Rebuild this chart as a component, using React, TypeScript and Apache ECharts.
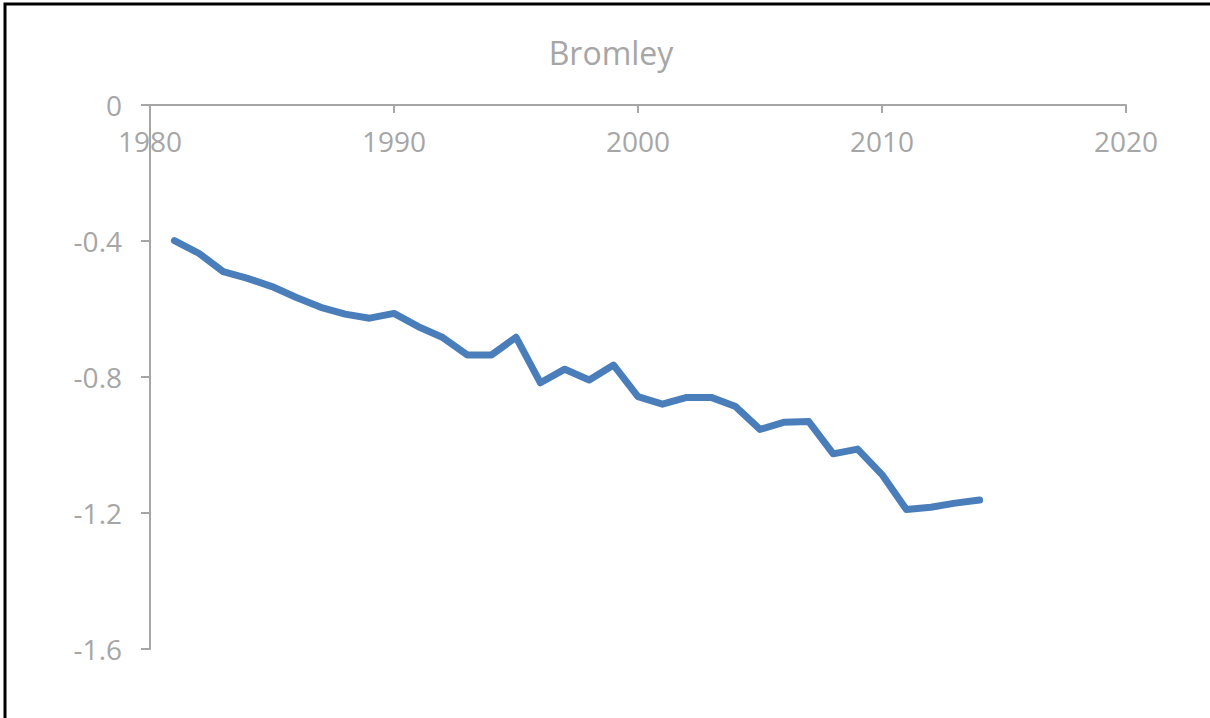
import React, { useEffect, useRef } from "react";
import * as echarts from "echarts";

const title = "Bromley";
const years = [1981,1982,1983,1984,1985,1986,1987,1988,1989,1990,1991,1992,1993,1994,1995,1996,1997,1998,1999,2000,2001,2002,2003,2004,2005,2006,2007,2008,2009,2010,2011,2012,2013,2014];
const values = [-0.399,-0.436,-0.490,-0.510,-0.534,-0.566,-0.595,-0.615,-0.627,-0.613,-0.652,-0.684,-0.735,-0.735,-0.683,-0.817,-0.777,-0.809,-0.765,-0.858,-0.880,-0.860,-0.860,-0.887,-0.954,-0.933,-0.931,-1.026,-1.012,-1.087,-1.190,-1.183,-1.171,-1.162];
const xTicks = [1980, 2020, 10];
const yTicks = [-1.6, 0, 0.4];

export default function App() {
  const ref = useRef<HTMLDivElement>(null);
  useEffect(() => {
    document.body.style.margin = "0";
    const chart = echarts.init(ref.current!, null, { renderer: "svg" });
    const gray = "#a6a6a6";
    const font = "'Open Sans', 'Noto Sans', sans-serif";
    chart.setOption({
      animation: false,
      backgroundColor: "#ffffff",
      title: {
        text: title,
        left: 606,
        textAlign: "center",
        top: 31,
        textStyle: { color: gray, fontSize: 32, fontWeight: "normal", fontFamily: font },
      },
      grid: { left: 150, right: 84, top: 105, bottom: 69, containLabel: false },
      xAxis: {
        type: "value",
        position: "top",
        min: xTicks[0],
        max: xTicks[1],
        interval: xTicks[2],
        axisLine: { onZero: false, lineStyle: { color: gray, width: 2 } },
        axisTick: { show: true, inside: true, length: 8, lineStyle: { color: gray, width: 2 } },
        axisLabel: { inside: true, color: gray, fontSize: 28, fontFamily: font, margin: 22, formatter: (v: number) => String(v) },
        splitLine: { show: false },
      },
      yAxis: {
        type: "value",
        min: yTicks[0],
        max: yTicks[1],
        interval: yTicks[2],
        axisLine: { show: true, onZero: false, lineStyle: { color: gray, width: 2 } },
        axisTick: { show: true, length: 9, lineStyle: { color: gray, width: 2 } },
        axisLabel: { color: gray, fontSize: 28, fontFamily: font, margin: 28 },
        splitLine: { show: false },
      },
      graphic: [
        {
          type: "rect",
          shape: { x: 5, y: 4, width: 1400, height: 900 },
          style: { fill: "none", stroke: "#000", lineWidth: 3 },
          silent: true,
          z: 100,
        },
      ],
      series: [
        {
          type: "line",
          data: years.map((y, i) => [y, values[i]]),
          showSymbol: false,
          lineStyle: { color: "#4a7ebb", width: 7, cap: "round", join: "round" },
          itemStyle: { color: "#4a7ebb" },
        },
      ],
    });
    return () => chart.dispose();
  }, []);
  return <div ref={ref} style={{ width: 1210, height: 718, position: "absolute", left: 0, top: 0 }} />;
}
